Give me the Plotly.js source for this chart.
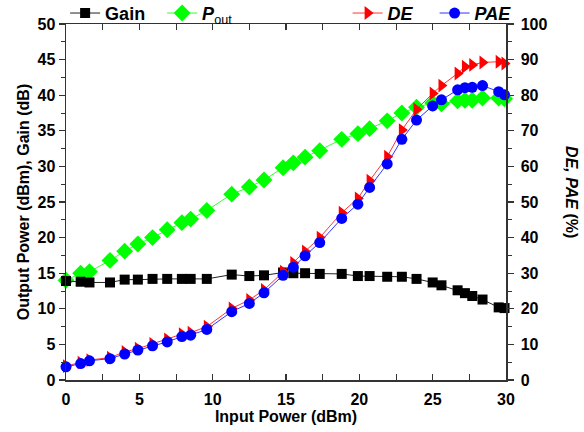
<!DOCTYPE html>
<html>
<head>
<meta charset="utf-8">
<script src="https://cdn.plot.ly/plotly-3.0.1.min.js"></script>
<style>html,body{margin:0;padding:0;background:#fff;}#chart{width:584px;height:432px;}</style>
</head>
<body>
<div id="chart"></div>
<script>
const inputPower = [0, 1.0, 1.6, 3.0, 4.0, 4.9, 5.9, 6.9, 7.9, 8.5, 9.6, 11.3, 12.5, 13.5, 14.8, 15.5, 16.3, 17.3, 18.8, 19.9, 20.7, 21.9, 22.9, 23.9, 25.0, 25.6, 26.7, 27.2, 27.7, 28.4, 29.5, 29.9];
const gain = [13.9, 13.8, 13.7, 13.7, 14.1, 14.1, 14.2, 14.2, 14.2, 14.2, 14.2, 14.8, 14.6, 14.7, 15.1, 15.0, 15.0, 14.9, 14.9, 14.6, 14.6, 14.5, 14.5, 14.2, 13.7, 13.3, 12.6, 12.2, 11.8, 11.3, 10.2, 10.1];
const pout = [14.0, 15.0, 15.2, 16.8, 18.1, 19.1, 20.0, 21.1, 22.1, 22.6, 23.8, 26.1, 27.1, 28.1, 29.8, 30.5, 31.3, 32.2, 33.8, 34.6, 35.3, 36.4, 37.5, 38.3, 38.9, 38.8, 39.2, 39.3, 39.3, 39.6, 39.6, 39.5];
const de = [3.9, 4.9, 5.6, 6.3, 7.9, 8.8, 10.1, 11.4, 12.9, 13.3, 15.0, 20.1, 22.5, 25.3, 30.4, 32.9, 36.1, 40.0, 47.0, 51.0, 56.0, 62.7, 70.2, 76.0, 80.5, 82.7, 86.1, 88.0, 88.5, 89.2, 89.4, 88.9];
const pae = [3.7, 4.6, 5.4, 6.0, 7.3, 8.4, 9.6, 10.7, 12.2, 12.6, 14.2, 19.2, 21.5, 24.5, 29.4, 31.7, 34.9, 38.6, 45.4, 49.4, 54.1, 60.7, 67.6, 73.0, 77.0, 78.7, 81.5, 82.1, 82.2, 82.7, 81.0, 80.1];

const FONT = "Liberation Sans, Arial, sans-serif";

const traces = [
  {x: inputPower, y: pout, name: '<i>P</i><span style="font-weight:normal"><sub>out</sub></span>', mode: 'lines+markers',
   line: {color: '#33ff33', width: 1}, marker: {symbol: 'diamond', size: 13, color: '#00ff00'},
   cliponaxis: false, legend: 'legend', legendrank: 2},
  {x: inputPower, y: gain, name: 'Gain', mode: 'lines+markers',
   line: {color: '#222222', width: 1}, marker: {symbol: 'square', size: 10, color: '#000000'},
   cliponaxis: false, legend: 'legend', legendrank: 1},
  {x: inputPower, y: de, name: '<i>DE</i>', yaxis: 'y2', mode: 'lines+markers',
   line: {color: '#ff3333', width: 1}, marker: {symbol: 'triangle-right', size: 12, color: '#ff0000'},
   cliponaxis: false, legend: 'legend2', legendrank: 1},
  {x: inputPower, y: pae, name: '<i>PAE</i>', yaxis: 'y2', mode: 'lines+markers',
   line: {color: '#3333ff', width: 1}, marker: {symbol: 'circle', size: 11, color: '#0000ff'},
   cliponaxis: false, legend: 'legend2', legendrank: 2}
];

const tickFont = {family: FONT, size: 16, color: '#000', weight: 'bold'};
const titleFont = {family: FONT, size: 16, color: '#000', weight: 'bold'};

const layout = {
  width: 584, height: 432,
  margin: {l: 66, r: 78, t: 24, b: 52, autoexpand: false},
  paper_bgcolor: '#fff', plot_bgcolor: '#fff',
  showlegend: true,
  xaxis: {
    range: [0, 30], dtick: 5, tick0: 0, showgrid: false, zeroline: false,
    showline: true, linecolor: '#333', linewidth: 1.5, mirror: 'allticks',
    ticks: 'inside', ticklen: 6, tickwidth: 1.2, tickcolor: '#333',
    minor: {dtick: 2.5, ticks: 'inside', ticklen: 5, tickcolor: '#333', tickwidth: 1},
    tickfont: tickFont, ticklabelstandoff: 4,
    title: {text: 'Input Power (dBm)', font: titleFont, standoff: 2}
  },
  yaxis: {
    range: [0, 50], dtick: 5, tick0: 0, showgrid: false, zeroline: false,
    showline: true, linecolor: '#333', linewidth: 1.5, mirror: false,
    ticks: 'outside', ticklen: 6, tickwidth: 1.2, tickcolor: '#333',
    minor: {dtick: 2.5, ticks: 'outside', ticklen: 4, tickcolor: '#333', tickwidth: 1},
    tickfont: tickFont,
    title: {text: 'Output Power (dBm), Gain (dB)', font: titleFont, standoff: 4}
  },
  yaxis2: {
    overlaying: 'y', side: 'right', anchor: 'x',
    range: [0, 100], dtick: 10, tick0: 0, showgrid: false, zeroline: false,
    showline: true, linecolor: '#333', linewidth: 1.5,
    ticks: 'outside', ticklen: 6, tickwidth: 1.2, tickcolor: '#333',
    minor: {dtick: 5, ticks: 'outside', ticklen: 4, tickcolor: '#333', tickwidth: 1},
    tickfont: tickFont, ticklabelstandoff: 4
  },
  legend: {
    orientation: 'h', x: -0.002, xanchor: 'left', y: 1.03, yanchor: 'middle',
    font: {family: FONT, size: 18, color: '#000', weight: 'bold'},
    bgcolor: 'rgba(0,0,0,0)', entrywidthmode: 'pixels', entrywidth: 52, traceorder: 'normal'
  },
  legend2: {
    orientation: 'h', x: 0.64, xanchor: 'left', y: 1.03, yanchor: 'middle',
    font: {family: FONT, size: 18, color: '#000', weight: 'bold'},
    bgcolor: 'rgba(0,0,0,0)', entrywidthmode: 'pixels', entrywidth: 42, traceorder: 'normal'
  },
  annotations: [{
    xref: 'paper', yref: 'paper', x: 1.149, y: 0.529, textangle: 90, showarrow: false,
    text: '<i>DE, PAE</i> (%)', font: titleFont, xanchor: 'center', yanchor: 'middle'
  }]
};

Plotly.newPlot('chart', traces, layout, {displayModeBar: false, staticPlot: true});
</script>
</body>
</html>
